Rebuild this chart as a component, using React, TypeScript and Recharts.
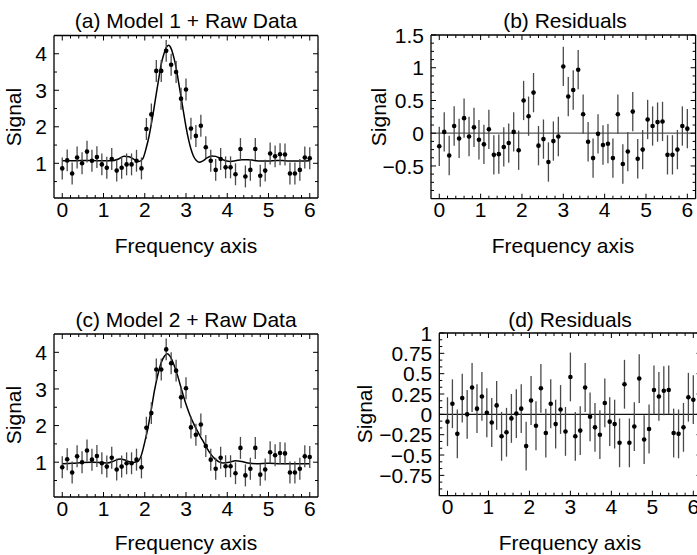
import React from "react";
import { ComposedChart, Scatter, Line, XAxis, YAxis, ErrorBar, ReferenceLine } from "recharts";

// ---------- data ----------
const FREQ = [0, 0.12, 0.24, 0.36, 0.48, 0.6, 0.72, 0.84, 0.96, 1.08, 1.2, 1.32, 1.44, 1.56, 1.68, 1.8, 1.92, 2.04, 2.16, 2.28, 2.4, 2.52, 2.64, 2.76, 2.88, 3.0, 3.12, 3.24, 3.36, 3.48, 3.6, 3.72, 3.84, 3.96, 4.08, 4.2, 4.32, 4.44, 4.56, 4.68, 4.8, 4.92, 5.04, 5.16, 5.28, 5.4, 5.52, 5.64, 5.76, 5.88, 6.0];

const RAW = [0.86, 1.08, 0.72, 1.16, 1.0, 1.32, 1.07, 1.17, 0.97, 0.88, 1.12, 0.8, 0.88, 0.97, 0.97, 1.07, 0.86, 1.94, 2.34, 3.53, 3.53, 4.08, 3.7, 3.5, 2.77, 3.02, 1.95, 1.75, 2.03, 1.44, 1.07, 0.82, 1.12, 0.89, 0.89, 0.7, 1.39, 0.64, 0.82, 1.39, 0.66, 0.8, 1.27, 1.19, 1.25, 1.24, 0.72, 0.72, 0.82, 1.16, 1.14];

const RESID1 = [-0.2, 0.02, -0.34, 0.11, -0.08, 0.23, -0.05, 0.09, -0.1, -0.17, 0.06, -0.33, -0.32, -0.21, -0.15, 0.02, -0.26, 0.5, 0.26, 0.62, -0.19, -0.09, -0.44, -0.12, -0.05, 1.02, 0.56, 0.66, 0.97, 0.29, -0.13, -0.38, -0.01, -0.18, -0.16, -0.38, 0.29, -0.47, -0.28, 0.33, -0.39, -0.25, 0.21, 0.11, 0.17, 0.18, -0.33, -0.33, -0.25, 0.11, 0.07];

const RESID2 = [-0.09, 0.13, -0.24, 0.2, 0.0, 0.33, 0.07, 0.22, 0.02, -0.1, 0.11, -0.27, -0.22, -0.05, 0.01, 0.07, -0.39, 0.17, -0.14, 0.32, -0.23, 0.13, -0.12, 0.06, -0.21, 0.46, -0.27, -0.2, 0.33, -0.03, -0.16, -0.25, 0.14, -0.09, -0.12, -0.35, 0.37, -0.35, -0.15, 0.44, -0.31, -0.18, 0.3, 0.22, 0.29, 0.3, -0.23, -0.24, -0.16, 0.21, 0.18];

const ERR = 0.3;

const MODEL1_X = [0, 0.3, 0.6, 0.9, 1.2, 1.35, 1.5, 1.62, 1.75, 1.86, 1.95, 2.04, 2.1, 2.16, 2.22, 2.28, 2.34, 2.4, 2.46, 2.52, 2.58, 2.64, 2.7, 2.76, 2.82, 2.88, 2.94, 3.0, 3.06, 3.12, 3.18, 3.24, 3.32, 3.4, 3.5, 3.62, 3.72, 3.84, 3.96, 4.08, 4.2, 4.35, 4.5, 4.65, 4.8, 5.0, 5.2, 5.4, 5.6, 5.8, 6.0];
const MODEL1_Y = [1.07, 1.07, 1.08, 1.07, 1.07, 1.11, 1.19, 1.18, 1.1, 1.05, 1.12, 1.44, 1.72, 2.08, 2.48, 2.91, 3.32, 3.72, 3.98, 4.17, 4.23, 4.14, 3.92, 3.62, 3.22, 2.82, 2.4, 2.0, 1.66, 1.39, 1.2, 1.09, 1.03, 1.06, 1.14, 1.2, 1.19, 1.13, 1.07, 1.05, 1.07, 1.1, 1.1, 1.08, 1.06, 1.06, 1.08, 1.07, 1.06, 1.06, 1.07];

const MODEL2_X = [0, 0.24, 0.48, 0.72, 0.96, 1.1, 1.25, 1.4, 1.55, 1.7, 1.82, 1.92, 2.0, 2.08, 2.16, 2.24, 2.32, 2.4, 2.48, 2.55, 2.62, 2.7, 2.8, 2.9, 3.0, 3.1, 3.2, 3.3, 3.4, 3.5, 3.6, 3.7, 3.8, 3.9, 4.05, 4.2, 4.35, 4.5, 4.7, 5.0, 5.3, 5.6, 6.0];
const MODEL2_Y = [0.96, 0.97, 0.99, 1.0, 0.99, 0.98, 1.03, 1.09, 1.05, 0.99, 1.01, 1.2, 1.55, 1.95, 2.45, 2.98, 3.4, 3.72, 3.9, 3.96, 3.88, 3.68, 3.35, 2.95, 2.58, 2.27, 2.02, 1.8, 1.6, 1.4, 1.22, 1.09, 1.01, 0.98, 1.0, 1.04, 1.02, 0.98, 0.96, 0.97, 0.96, 0.96, 0.96];

// ---------- ticks ----------
const X_LABELS = [0, 1, 2, 3, 4, 5, 6];
const X_TICKS = [0, 0.2, 0.4, 0.6, 0.8, 1, 1.2, 1.4, 1.6, 1.8, 2, 2.2, 2.4, 2.6, 2.8, 3, 3.2, 3.4, 3.6, 3.8, 4, 4.2, 4.4, 4.6, 4.8, 5, 5.2, 5.4, 5.6, 5.8, 6];
const X_DOMAIN: [number, number] = [-0.2, 6.2];

const SIG_LABELS = [1, 2, 3, 4];
const SIG_TICKS = [0.5, 1, 1.5, 2, 2.5, 3, 3.5, 4];
const SIG_DOMAIN: [number, number] = [0.05, 4.5];

const R1_LABELS = [-0.5, 0, 0.5, 1, 1.5];
const R1_TICKS = [-0.875, -0.75, -0.625, -0.5, -0.375, -0.25, -0.125, 0, 0.125, 0.25, 0.375, 0.5, 0.625, 0.75, 0.875, 1, 1.125, 1.25, 1.375, 1.5];
const R1_DOMAIN: [number, number] = [-1, 1.5];

const R2_LABELS = [-0.75, -0.5, -0.25, 0, 0.25, 0.5, 0.75, 1];
const R2_TICKS = [-0.9167, -0.8333, -0.75, -0.6667, -0.5833, -0.5, -0.4167, -0.3333, -0.25, -0.1667, -0.0833, 0, 0.0833, 0.1667, 0.25, 0.3333, 0.4167, 0.5, 0.5833, 0.6667, 0.75, 0.8333, 0.9167, 1];
const R2_DOMAIN: [number, number] = [-1, 1];

// ---------- styling ----------
const FONT = '"Liberation Sans", Arial, Helvetica, sans-serif';
const TICK_FS = 21;
const TITLE_FS = 21;
const AXIS_LINE = { stroke: "#000", strokeWidth: 1.3 };

const near = (v: number, list: number[]) => list.some((m) => Math.abs(m - v) < 1e-6);
const fmt = (v: number) => (v < 0 ? "\u2212" + String(Math.abs(v)) : String(v));

const makeRows = (vals: number[]) => FREQ.map((x, i) => ({ x, y: vals[i], err: ERR }));
const makeModel = (xs: number[], ys: number[]) => xs.map((x, i) => ({ x, y: ys[i] }));

function BottomTick(props: any) {
  const { x, y, payload } = props;
  const v = payload.value;
  const major = near(v, X_LABELS);
  return (
    <g>
      <line x1={x} x2={x} y1={y} y2={y - (major ? 5 : 3)} stroke="#000" strokeWidth={1} />
      {major && (
        <text x={x} y={y + 18.5} textAnchor="middle" fontSize={TICK_FS} fontFamily={FONT} fill="#000">
          {fmt(v)}
        </text>
      )}
    </g>
  );
}

function TopTick(props: any) {
  const { x, y, payload } = props;
  const major = near(payload.value, X_LABELS);
  return <line x1={x} x2={x} y1={y} y2={y + (major ? 5 : 3)} stroke="#000" strokeWidth={1} />;
}

function LeftTick(props: any) {
  const { x, y, payload, labels } = props;
  const v = payload.value;
  const major = near(v, labels);
  return (
    <g>
      <line x1={x} x2={x + (major ? 5 : 3)} y1={y} y2={y} stroke="#000" strokeWidth={1} />
      {major && (
        <text x={x - 7} y={y} dy="0.36em" textAnchor="end" fontSize={TICK_FS} fontFamily={FONT} fill="#000">
          {fmt(v)}
        </text>
      )}
    </g>
  );
}

function RightTick(props: any) {
  const { x, y, payload, labels } = props;
  const major = near(payload.value, labels);
  return <line x1={x} x2={x - (major ? 5 : 3)} y1={y} y2={y} stroke="#000" strokeWidth={1} />;
}

const Dot = (props: any) => <circle cx={props.cx} cy={props.cy} r={2.3} fill="#000" />;

type PanelProps = {
  left: number;
  top: number;
  width: number;
  height: number;
  box: { left: number; right: number; top: number; bottom: number };
  yDomain: [number, number];
  yTicks: number[];
  yLabels: number[];
  points: { x: number; y: number; err: number }[];
  model?: { x: number; y: number }[];
  zero?: string;
};

function Panel(p: PanelProps) {
  // axes take 1px each; plot area is the box
  const margin = {
    left: p.box.left - p.left - 1,
    right: p.left + p.width - p.box.right - 1,
    top: p.box.top - p.top - 1,
    bottom: p.top + p.height - p.box.bottom - 1,
  };
  return (
    <div style={{ position: "absolute", left: p.left, top: p.top }}>
      <ComposedChart width={p.width} height={p.height} margin={margin}>
        <XAxis
          xAxisId="b"
          type="number"
          dataKey="x"
          domain={X_DOMAIN}
          allowDataOverflow
          ticks={X_TICKS}
          interval={0}
          height={1}
          tickSize={0}
          tickMargin={0}
          tickLine={false}
          axisLine={AXIS_LINE}
          tick={(t: any) => <BottomTick {...t} />}
        />
        <XAxis
          xAxisId="t"
          orientation="top"
          type="number"
          dataKey="x"
          domain={X_DOMAIN}
          allowDataOverflow
          ticks={X_TICKS}
          interval={0}
          height={1}
          tickSize={0}
          tickMargin={0}
          tickLine={false}
          axisLine={AXIS_LINE}
          tick={(t: any) => <TopTick {...t} />}
        />
        <YAxis
          yAxisId="l"
          type="number"
          domain={p.yDomain}
          allowDataOverflow
          ticks={p.yTicks}
          interval={0}
          width={1}
          tickSize={0}
          tickMargin={0}
          tickLine={false}
          axisLine={AXIS_LINE}
          tick={(t: any) => <LeftTick {...t} labels={p.yLabels} />}
        />
        <YAxis
          yAxisId="r"
          orientation="right"
          type="number"
          domain={p.yDomain}
          allowDataOverflow
          ticks={p.yTicks}
          interval={0}
          width={1}
          tickSize={0}
          tickMargin={0}
          tickLine={false}
          axisLine={AXIS_LINE}
          tick={(t: any) => <RightTick {...t} labels={p.yLabels} />}
        />
        {p.zero && <ReferenceLine xAxisId="b" yAxisId="l" y={0} stroke={p.zero} strokeWidth={1.3} />}
        {p.model && (
          <Line
            xAxisId="b"
            yAxisId="l"
            data={p.model}
            dataKey="y"
            type="monotone"
            dot={false}
            activeDot={false}
            stroke="#000"
            strokeWidth={1.5}
            isAnimationActive={false}
          />
        )}
        <Scatter xAxisId="b" yAxisId="l" data={p.points} dataKey="y" shape={Dot} isAnimationActive={false}>
          <ErrorBar dataKey="err" direction="y" width={0} stroke="#4a4a4a" strokeWidth={1.3} isAnimationActive={false} />
        </Scatter>
      </ComposedChart>
    </div>
  );
}

function Labels() {
  const t = (x: number, y: number, s: string) => (
    <text x={x} y={y} textAnchor="middle" fontSize={TITLE_FS} fontFamily={FONT} fill="#000">
      {s}
    </text>
  );
  const sig = (x: number, y: number) => (
    <text x={x} y={y} transform={`rotate(-90 ${x} ${y})`} textAnchor="middle" fontSize={TITLE_FS} fontFamily={FONT} fill="#000">
      Signal
    </text>
  );
  return (
    <svg width={697} height={555} style={{ position: "absolute", left: 0, top: 0, pointerEvents: "none" }}>
      {t(186, 28, "(a) Model 1 + Raw Data")}
      {t(565, 28, "(b) Residuals")}
      {t(186, 327, "(c) Model 2 + Raw Data")}
      {t(570, 327, "(d) Residuals")}
      {t(186, 253, "Frequency axis")}
      {t(563, 253, "Frequency axis")}
      {t(186, 550, "Frequency axis")}
      {t(570, 550, "Frequency axis")}
      {sig(21, 117)}
      {sig(386, 117)}
      {sig(21, 415)}
      {sig(372, 414)}
    </svg>
  );
}

export default function App() {
  const raw = makeRows(RAW);
  return (
    <div style={{ position: "absolute", left: 0, top: 0, width: 697, height: 555, overflow: "hidden", background: "#fff" }}>
      <Panel
        left={0}
        top={0}
        width={330}
        height={280}
        box={{ left: 54, right: 318, top: 35.5, bottom: 198 }}
        yDomain={SIG_DOMAIN}
        yTicks={SIG_TICKS}
        yLabels={SIG_LABELS}
        points={raw}
        model={makeModel(MODEL1_X, MODEL1_Y)}
      />
      <Panel
        left={360}
        top={0}
        width={337}
        height={280}
        box={{ left: 431, right: 695.6, top: 35, bottom: 198.7 }}
        yDomain={R1_DOMAIN}
        yTicks={R1_TICKS}
        yLabels={R1_LABELS}
        points={makeRows(RESID1)}
        zero="#555"
      />
      <Panel
        left={0}
        top={298}
        width={330}
        height={257}
        box={{ left: 54, right: 318, top: 334, bottom: 497 }}
        yDomain={SIG_DOMAIN}
        yTicks={SIG_TICKS}
        yLabels={SIG_LABELS}
        points={raw}
        model={makeModel(MODEL2_X, MODEL2_Y)}
      />
      <Panel
        left={360}
        top={298}
        width={355}
        height={257}
        box={{ left: 439.3, right: 701.5, top: 333, bottom: 495.7 }}
        yDomain={R2_DOMAIN}
        yTicks={R2_TICKS}
        yLabels={R2_LABELS}
        points={makeRows(RESID2)}
        zero="#111"
      />
      <Labels />
    </div>
  );
}
